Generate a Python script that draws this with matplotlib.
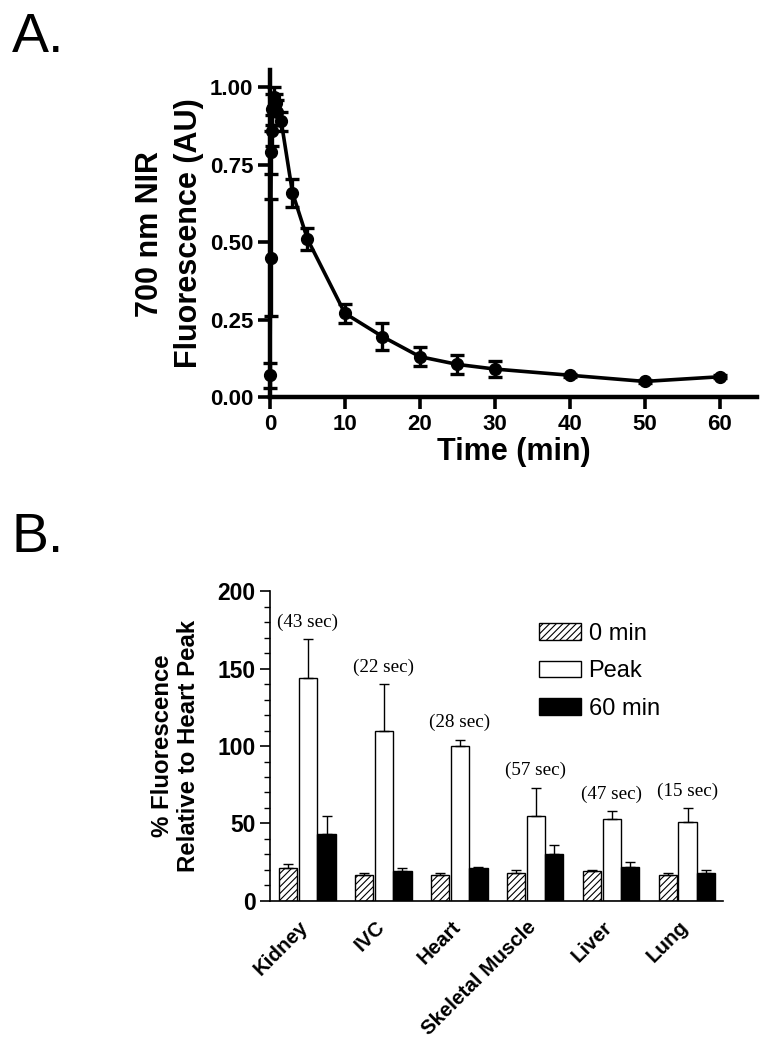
import matplotlib.pyplot as plt
import matplotlib.transforms as mtransforms
import numpy as np
from matplotlib.ticker import MultipleLocator

plt.rcParams.update({
    "font.family": "Liberation Sans",
    "font.weight": "bold",
    "axes.spines.top": False,
    "axes.spines.right": False,
    "hatch.linewidth": 0.8,
})

# Panel A: 700 nm NIR fluorescence over time
time_min = [0, 0.083, 0.167, 0.25, 0.33, 0.5, 0.75, 1.0, 1.5, 3, 5, 10, 15, 20, 25, 30, 40, 50, 60]
fluor = [0.07, 0.45, 0.79, 0.86, 0.93, 0.97, 0.95, 0.92, 0.89, 0.66, 0.51, 0.27, 0.195, 0.13, 0.105, 0.09, 0.07, 0.05, 0.065]
fluor_err = [0.04, 0.19, 0.07, 0.05, 0.05, 0.03, 0.03, 0.04, 0.03, 0.045, 0.035, 0.03, 0.045, 0.03, 0.03, 0.025, 0.005, 0.005, 0.005]

# Panel B: organ fluorescence relative to heart peak
organs = ["Kidney", "IVC", "Heart", "Skeletal Muscle", "Liver", "Lung"]
min0 = [21, 17, 17, 18, 19, 17]
min0_err = [3, 1, 1, 2, 1, 1]
peak = [144, 110, 100, 55, 53, 51]
peak_err = [25, 30, 4, 18, 5, 9]
min60 = [43, 19, 21, 30, 22, 18]
min60_err = [12, 2, 1, 6, 3, 2]
peak_time = ["(43 sec)", "(22 sec)", "(28 sec)", "(57 sec)", "(47 sec)", "(15 sec)"]

fig = plt.figure(figsize=(7.67, 10.5), dpi=100)

# ---- Panel A ----
axA = fig.add_axes([0.352, 0.622, 0.635, 0.311])
axA.errorbar(time_min, fluor, yerr=fluor_err, color="black", lw=2.6, marker="o",
             markersize=8.5, capsize=4.8, elinewidth=2.4, capthick=2.4, clip_on=False, zorder=3)
axA.set_xlim(0, 65)
axA.set_ylim(0, 1.055)
axA.set_yticks([0, 0.25, 0.5, 0.75, 1.0])
axA.set_yticklabels(["0.00", "0.25", "0.50", "0.75", "1.00"])
axA.set_xticks([0, 10, 20, 30, 40, 50, 60])
for s in ["left", "bottom"]:
    axA.spines[s].set_linewidth(3.2)
axA.tick_params(width=2.6, length=8.5, labelsize=16)
axA.set_xlabel("Time (min)", fontsize=22, fontweight="bold", labelpad=2)
axA.set_ylabel("700 nm NIR\nFluorescence (AU)", fontsize=22, fontweight="bold", labelpad=4,
               linespacing=1.4)
fig.text(0.015, 0.989, "A.", fontsize=40, fontweight="normal", va="top", ha="left")

# ---- Panel B ----
axB = fig.add_axes([0.352, 0.142, 0.591, 0.295])
x = np.arange(len(organs))
w = 0.24
axB.bar(x - 0.26, min0, w, color="white", edgecolor="black", hatch="/////", lw=1.0, label="0 min")
axB.bar(x, peak, w, color="white", edgecolor="black", lw=1.0, label="Peak")
axB.bar(x + 0.245, min60, w, color="black", edgecolor="black", lw=1.0, label="60 min")
err_kw = dict(fmt="none", ecolor="black", elinewidth=1.0, capsize=3.5, capthick=1.0)
axB.errorbar(x - 0.26, min0, yerr=[np.zeros(6), min0_err], **err_kw)
axB.errorbar(x, peak, yerr=[np.zeros(6), peak_err], **err_kw)
axB.errorbar(x + 0.245, min60, yerr=[np.zeros(6), min60_err], **err_kw)
for xi, p, e, t in zip(x, peak, peak_err, peak_time):
    axB.text(xi, p + e + 11, t, ha="center", va="center", fontsize=13.8,
             family="Liberation Serif", fontweight="normal")

axB.set_xlim(-0.5, 5.47)
axB.set_ylim(0, 200)
axB.yaxis.set_major_locator(MultipleLocator(50))
axB.yaxis.set_minor_locator(MultipleLocator(10))
axB.tick_params(axis="y", which="major", length=7, width=1.2, labelsize=16.5)
axB.tick_params(axis="y", which="minor", length=4.5, width=1.0)
axB.tick_params(axis="x", length=0, labelsize=14.8, pad=12)
for s in ["left", "bottom"]:
    axB.spines[s].set_linewidth(1.2)
axB.set_xticks(x)
axB.set_xticklabels(organs, rotation=45, ha="right", rotation_mode="anchor")
shift = mtransforms.ScaledTranslation(-9 / 100, 0, fig.dpi_scale_trans)
for lab in axB.get_xticklabels():
    lab.set_transform(lab.get_transform() + shift)
axB.set_ylabel("% Fluorescence\nRelative to Heart Peak", fontsize=17.3, fontweight="bold",
               labelpad=12, linespacing=1.2)
leg = axB.legend(loc="upper left", bbox_to_anchor=(0.675, 0.427), bbox_transform=fig.transFigure,
                 frameon=False,
                 prop={"family": "Liberation Sans", "weight": "normal", "size": 17},
                 handlelength=1.8, handleheight=0.72, labelspacing=0.65, handletextpad=0.3)
fig.text(0.015, 0.512, "B.", fontsize=40, fontweight="normal", va="top", ha="left")

plt.savefig("out.png", dpi=100, facecolor="white")
plt.close()
